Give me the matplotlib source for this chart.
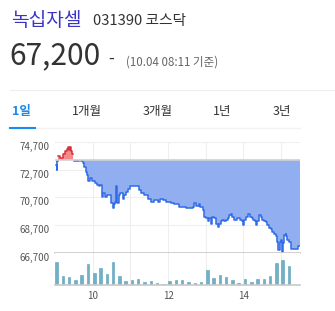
import numpy as np
import matplotlib
matplotlib.use('Agg')
import matplotlib.pyplot as plt

plt.rcParams['font.family'] = ['Noto Sans CJK KR', 'DejaVu Sans']

# Intraday price (minutes after 09:00, price in won)
MINUTES = [0, 1.4, 2.7, 3.8, 5.4, 8.6, 12.2, 15.4, 18.6, 20.2, 21.8, 23.4, 25, 26.6, 28.1,
           30.8, 35.6, 38.8, 42, 45.2, 46.7, 49.9, 51.5, 53.1, 55.8, 58.4, 61.5, 63.8, 66.3,
           69.5, 71.7, 74.3, 75.8, 79, 82.2, 85.4, 89.2, 91.7, 94.4, 96, 97.1, 99.2, 101.3,
           104, 107.6, 110.3, 113, 115.6, 119.4, 124.7, 129, 133.1, 136.9, 142.1, 147.4,
           152.8, 158, 163.3, 167.1, 171.2, 176.6, 181.9, 184.6, 189.8, 195.1, 197.8, 203,
           208.4, 211, 216.4, 220.1, 221.6, 224.3, 228.5, 230.7, 234.8, 237.5, 240.2, 242.8,
           245.5, 248.2, 250.7, 253.4, 256.1, 258.7, 261.4, 264.1, 266.6, 269.3, 272, 274.6,
           277.3, 280, 282.5, 285.2, 290.5, 294.3, 297.5, 299.6, 301.1, 303.9, 308, 310.2,
           313.4, 315.5, 318.6, 320.7, 322.3, 325, 327.7, 330.2, 332.9, 335.6, 338.1, 340.8,
           343.6, 346.1, 348.8, 351.5, 354.1, 355.7, 357.9, 359.5, 361.1, 363.2, 364.7,
           367.4, 368.4, 370, 372.7, 375.4, 387, 390]
PRICES = [73400, 73000, 72700, 73300, 73700, 73500, 73800, 74000, 74200, 74300, 74100, 74300,
          74000, 73800, 73400, 73300, 73300, 73400, 73300, 73200, 72900, 72500, 72300, 71900,
          72100, 71900, 71900, 71700, 71600, 71500, 71600, 70700, 71000, 70700, 70900, 70900,
          70300, 69900, 70200, 70400, 71500, 70300, 70900, 71000, 70600, 70900, 71100, 71300,
          71500, 71500, 71500, 71200, 71000, 70900, 70600, 70400, 70500, 70400, 70600, 70500,
          70400, 70400, 70300, 70200, 70200, 70000, 70000, 69900, 69900, 69900, 70000, 70300,
          70100, 70200, 70000, 69800, 69300, 69200, 69000, 69200, 68800, 69300, 69200, 68800,
          68600, 68800, 69000, 69100, 69000, 69100, 69200, 69400, 69500, 69300, 69100, 69200,
          69100, 69000, 68700, 69100, 69300, 69500, 69300, 69200, 69100, 69000, 68700, 69000,
          69400, 69300, 69100, 69000, 68900, 68700, 68500, 68400, 68200, 68100, 67900, 67500,
          66900, 67500, 67600, 66800, 67400, 68000, 68100, 67900, 67600, 67500, 67000, 67200,
          67200]
BASE_PRICE = 73400

# 10-minute volume buckets (relative units)
VOLUMES = [67, 28, 24, 15, 30, 63, 36, 51, 33, 69, 27, 12, 15, 18, 9, 12, 6, 3, 12, 15,
           15, 9, 6, 9, 45, 21, 30, 24, 15, 6, 18, 9, 18, 18, 27, 66, 75, 57]

Y_TICKS = [66700, 68700, 70700, 72700, 74700]
X_TICKS = [60, 180, 300]
X_LABELS = ['10', '12', '14']
TABS = ['1일', '1개월', '3개월', '1년', '3년']
TAB_X = [12, 72, 143, 213, 273]

W, H = 335, 311
fig = plt.figure(figsize=(W / 100, H / 100), dpi=100)
fig.patch.set_facecolor('white')


def fx(x):
    return x / W


def fy(y):
    return 1 - y / H


def step_xy(x, y):
    # expand points into a post-step path
    xs = np.repeat(x, 2)[1:]
    ys = np.repeat(y, 2)[:-1]
    return xs, ys


# header
fig.text(fx(11), fy(20), '녹십자셀', fontsize=13.8, color='#3b35c3', va='center')
fig.text(fx(93), fy(21), '031390 코스닥', fontsize=10.6, color='#333333', va='center')
fig.text(fx(9), fy(56), '67,200', fontsize=21.5, color='#333333', va='center')
fig.text(fx(108), fy(58), '-', fontsize=12, color='#333333', va='center')
fig.text(fx(126), fy(62), '(10.04 08:11 기준)', fontsize=8.3, color='#666666', va='center')
fig.add_artist(plt.Line2D([fx(10), fx(335)], [fy(89.5), fy(89.5)], color='#eeeeee', lw=0.8))

# tabs
for i, (label, x) in enumerate(zip(TABS, TAB_X)):
    if i == 0:
        fig.text(fx(x), fy(112), label, fontsize=9, color='#1a8af0', va='center', weight='bold')
    else:
        fig.text(fx(x), fy(112), label, fontsize=9, color='#333333', va='center')
fig.add_artist(plt.Line2D([fx(35), fx(300)], [fy(127.5), fy(127.5)], color='#f2f2f2', lw=1))
fig.add_artist(plt.Line2D([fx(10), fx(35)], [fy(127.5), fy(127.5)], color='#1a8af0', lw=1.5))

# price chart
m = np.array(MINUTES, dtype=float)
p = np.array(PRICES, dtype=float)
ax = fig.add_axes([fx(55), fy(253), fx(245), 111.3 / H])
ax.set_xlim(0, 390)
ax.set_ylim(66700, 74700)
low = np.minimum(p, BASE_PRICE)
high = np.maximum(p, BASE_PRICE)
ax.fill_between(m, low, BASE_PRICE, step='post', color='#90aef0', lw=0, zorder=2)
ax.fill_between(m, high, BASE_PRICE, step='post', color='#f38b8b', lw=0, zorder=2)
sx, sy = step_xy(m, p)
blue_y = np.where(sy < BASE_PRICE, sy, np.nan)
red_y = np.where(sy > BASE_PRICE, sy, np.nan)
ax.plot(sx, blue_y, color='#2f6be6', lw=1.1, zorder=3)
ax.plot(sx, red_y, color='#d8303c', lw=1.1, zorder=3)
ax.axhline(BASE_PRICE, color='#d0d0d0', lw=1.2, zorder=4)
ax.set_yticks(Y_TICKS)
ax.set_yticklabels([f'{v:,}' for v in Y_TICKS])
for lbl in ax.get_yticklabels():
    lbl.set_va('top')
ax.set_xticks(range(60, 390, 60))
ax.tick_params(length=0, labelbottom=False, labelsize=7, labelcolor='#555555', pad=4)
ax.grid(True, color='#efefef', lw=0.8, zorder=0)
for s in ['top', 'left', 'right']:
    ax.spines[s].set_visible(False)
ax.spines['bottom'].set_color('#c8c8c8')
ax.spines['bottom'].set_linewidth(1.2)
ax.spines['bottom'].set_zorder(5)

# volume chart
axv = fig.add_axes([fx(55), fy(285), fx(245), 32 / H])
axv.set_xlim(0, 390)
axv.set_ylim(0, 95)
vx = np.arange(len(VOLUMES)) * 10 + 2.5
axv.bar(vx, VOLUMES, width=4.0, color='#6fb2c8', edgecolor='#5a9db5', lw=0.4, zorder=2)
axv.set_xticks(range(60, 390, 60))
axv.set_xticklabels([X_LABELS[X_TICKS.index(t)] if t in X_TICKS else '' for t in range(60, 390, 60)])
axv.set_yticks([])
axv.tick_params(length=0, labelsize=7, labelcolor='#555555', pad=4)
axv.grid(True, axis='x', color='#efefef', lw=0.8, zorder=0)
for s in ['top', 'left', 'right']:
    axv.spines[s].set_visible(False)
axv.spines['bottom'].set_color('#c8c8c8')
axv.spines['bottom'].set_linewidth(1.2)

fig.savefig('out.png', dpi=100)
